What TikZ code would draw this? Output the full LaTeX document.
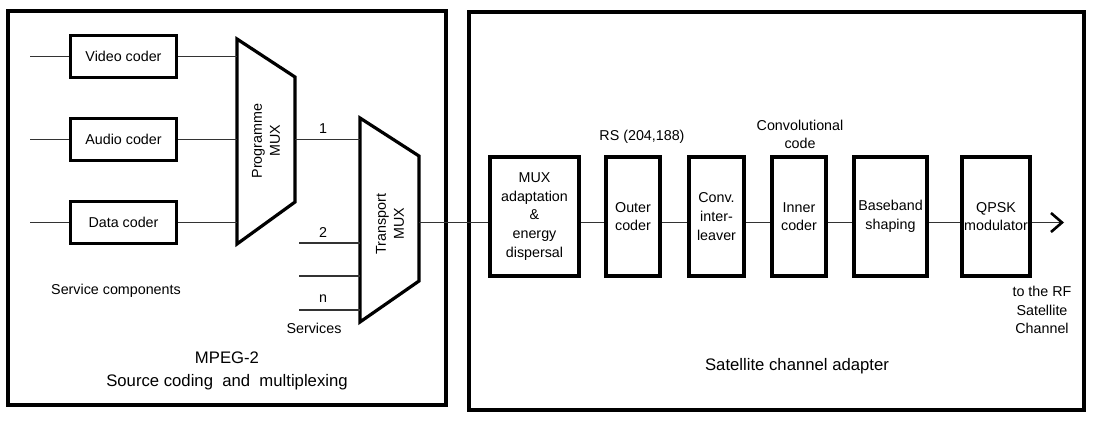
\documentclass[tikz,border=0pt]{standalone}
\usepackage{fontspec}
\setmainfont{Liberation Sans}
\usetikzlibrary{arrows.meta}
\begin{document}
\begin{tikzpicture}[x=1pt,y=-1pt,
  panel/.style={draw=black,line width=3.2pt},
  blk/.style={draw=black,line width=3.2pt,align=center,inner sep=0pt,
    font=\fontsize{14.3}{18.7}\selectfont},
  wire/.style={draw=black!80,line width=1.1pt},
  lbl/.style={align=center,inner sep=0pt,font=\fontsize{14.3}{18.2}\selectfont},
  big/.style={align=center,inner sep=0pt,font=\fontsize{16.7}{23}\selectfont},
  mux/.style={draw=black,line width=3.2pt,line join=miter}]
\useasboundingbox (0,0) rectangle (1094,421);
% panels
\draw[panel] (8,11) rectangle (446,405);
\draw[panel] (469,12) rectangle (1084,410);
% coders
\node[blk,minimum width=106pt,minimum height=42pt] (video) at (123.5,56.5) {Video coder};
\node[blk,minimum width=106pt,minimum height=42pt] (audio) at (123.5,139.5) {Audio coder};
\node[blk,minimum width=106pt,minimum height=42pt] (data) at (123.5,222.5) {Data coder};
\coordinate (vin) at (30,56.5);
\coordinate (ain) at (30,139.5);
\coordinate (din) at (30,222.5);
\draw[wire] (vin) -- (video.west);
\draw[wire] (ain) -- (audio.west);
\draw[wire] (din) -- (data.west);
% programme mux
\draw[mux] (237,39) -- (295,77) -- (295,202) -- (237,244) -- cycle;
\node[lbl,rotate=90] (pmux) at (266,141) {Programme\\MUX};
\coordinate (pm1) at (237,56.5);
\coordinate (pm2) at (237,139.5);
\coordinate (pm3) at (237,222.5);
\coordinate (pmout) at (295,139.5);
\draw[wire] (video.east) -- (pm1);
\draw[wire] (audio.east) -- (pm2);
\draw[wire] (data.east) -- (pm3);
% transport mux
\draw[mux] (360,118) -- (419,156) -- (419,281) -- (360,322) -- cycle;
\node[lbl,rotate=90] (tmux) at (390,224) {Transport\\MUX};
\coordinate (tm1) at (360,139.5);
\coordinate (tm2) at (360,243);
\coordinate (tm3) at (360,276);
\coordinate (tm4) at (360,310);
\coordinate (tmout) at (419,222.5);
\coordinate (s2) at (299,243);
\coordinate (s3) at (299,276);
\coordinate (s4) at (299,310);
\draw[wire] (pmout) -- (tm1);
\draw[wire] (s2) -- (tm2);
\draw[wire] (s3) -- (tm3);
\draw[wire] (s4) -- (tm4);
\node[lbl] (l1) at (323,129) {1};
\node[lbl] (l2) at (323,233) {2};
\node[lbl] (ln) at (323,299) {n};
\node[lbl] (serv) at (314,328) {Services};
\node[lbl] (scomp) at (116,291) {Service components};
\node[big] (mpeg) at (227,370.5) {MPEG-2\\Source coding\ \ and\ \ multiplexing};
% satellite chain
\node[blk,minimum width=89pt,minimum height=119pt] (muxa) at (534.5,216.5) {MUX\\adaptation\\\&\\energy\\dispersal};
\node[blk,minimum width=54pt,minimum height=119pt] (outer) at (633,216.5) {Outer\\coder};
\node[blk,minimum width=55pt,minimum height=119pt] (conv) at (716.5,216.5) {Conv.\\inter-\\leaver};
\node[blk,minimum width=54pt,minimum height=119pt] (inner) at (799,216.5) {Inner\\coder};
\node[blk,minimum width=73pt,minimum height=119pt] (base) at (890.5,216.5) {Baseband\\shaping};
\node[blk,minimum width=68pt,minimum height=119pt] (qpsk) at (996,216.5) {QPSK\\modulator};
\coordinate (rfout) at (1064,222.5);
\draw[wire] (tmout) -- (muxa.west |- tmout);
\draw[wire] (muxa.east |- tmout) -- (outer.west |- tmout);
\draw[wire] (outer.east |- tmout) -- (conv.west |- tmout);
\draw[wire] (conv.east |- tmout) -- (inner.west |- tmout);
\draw[wire] (inner.east |- tmout) -- (base.west |- tmout);
\draw[wire] (base.east |- tmout) -- (qpsk.west |- tmout);
\draw[wire,-{Straight Barb[length=11pt,width=19pt,line width=2.6pt,color=black]}] (qpsk.east |- tmout) -- (rfout);
\node[lbl] (rs) at (642,137) {RS (204,188)};
\node[lbl] (cc) at (800,134) {Convolutional\\code};
\node[lbl] (rf) at (1042,310) {to the RF\\Satellite\\Channel};
\node[big] (sca) at (797,366) {Satellite channel adapter};
\end{tikzpicture}
\end{document}
